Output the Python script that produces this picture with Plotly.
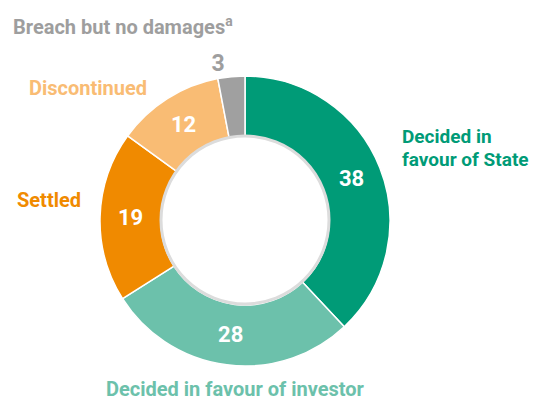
import plotly.graph_objects as go

# Data
categories = ["Decided in favour of State", "Decided in favour of investor", "Settled",
              "Discontinued", "Breach but no damages"]
values = [38, 28, 19, 12, 3]
colors = ["#009B77", "#6CC1AB", "#F08A00", "#F9BC74", "#A0A0A0"]

W, H = 539, 401
OFF = 8  # the page body adds an 8px margin, so place everything 8px up/left
cx, cy, r = 245 - OFF, 221 - OFF, 145
FONT = "Roboto, Arial, sans-serif"

fig = go.Figure()
fig.add_trace(go.Pie(
    labels=categories,
    values=values,
    marker=dict(colors=colors, line=dict(color="white", width=1.5)),
    hole=0.58,
    sort=False,
    direction="clockwise",
    rotation=0,
    textinfo="value",
    textposition=["inside", "inside", "inside", "inside", "outside"],
    insidetextorientation="horizontal",
    insidetextfont=dict(color="white", size=22, family=FONT, weight="bold"),
    outsidetextfont=dict(color="#9E9E9E", size=23, family=FONT, weight="bold"),
    showlegend=False,
    hoverinfo="label+value",
    automargin=False,
    # tall y-domain so the outside "3" does not shrink the pie
    domain=dict(x=[(cx - r) / W, (cx + r) / W], y=[(H - cy - r - 30) / H, (H - cy + r + 30) / H]),
))

# Soft ring around the hole
ri = 84
fig.add_shape(type="circle", xref="paper", yref="paper",
              x0=(cx - ri) / W, x1=(cx + ri) / W,
              y0=(H - cy + 1 - ri) / H, y1=(H - cy + 1 + ri) / H,
              line=dict(color="#DCDCDC", width=3), layer="above")

def label(text, x, y, color, anchor="left", size=20):
    fig.add_annotation(text=text, x=(x - OFF) / W, y=1 - (y - OFF) / H,
                       xref="paper", yref="paper",
                       xanchor=anchor, yanchor="middle", showarrow=False, align=anchor,
                       font=dict(family=FONT, size=size, color=color, weight="bold"))

label("Decided in", 400, 136, colors[0], size=19)
label("favour of State", 400, 160, colors[0], size=19)
label("Decided in favour of investor", 235, 389, colors[1], anchor="center")
label("Settled", 15, 200, colors[2])
label("Discontinued", 27, 88, colors[3])
label("Breach but no damages<sup>a</sup>", 11, 26, "#9E9E9E")

fig.update_layout(
    width=W, height=H,
    margin=dict(l=0, r=0, t=0, b=0, autoexpand=False),
    paper_bgcolor="white",
    plot_bgcolor="white",
)

fig.write_html("out.html")
